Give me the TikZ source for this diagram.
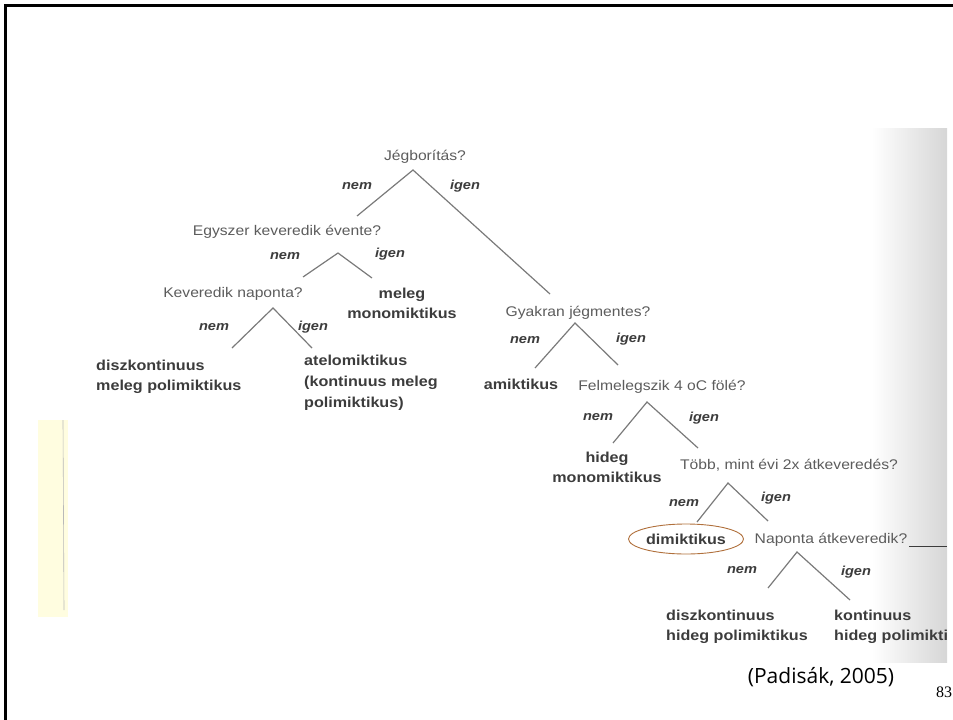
\documentclass[tikz,border=0pt]{standalone}
\usepackage{fontspec}
\usetikzlibrary{shapes.geometric}
\newfontfamily\scanfont[FakeStretch=1.12]{Liberation Sans}
\newfontfamily\citefont{Open Sans}
\newfontfamily\pagefont{Liberation Serif}
\definecolor{qgray}{HTML}{5C5C5C}
\definecolor{agray}{HTML}{3C3C3C}
\definecolor{linegray}{HTML}{7A7A7A}
\definecolor{ringbrown}{HTML}{B0703C}
\definecolor{paleyellow}{HTML}{FFFDE0}
\begin{document}
\begin{tikzpicture}[x=1pt,y=-1pt,
  question/.style={text=qgray,inner sep=0pt,font=\scanfont\fontsize{14}{16}\selectfont},
  answer/.style={text=agray,inner sep=0pt,font=\scanfont\bfseries\fontsize{14.4}{20}\selectfont},
  choice/.style={text=agray,inner sep=0pt,font=\scanfont\bfseries\itshape\fontsize{13}{14}\selectfont},
  branch/.style={draw=linegray,line width=1.2pt}]
\useasboundingbox (0,0) rectangle (953,720);
\shade[left color=white,right color=gray!32] (872,128) rectangle (947,662);
\fill[paleyellow] (38,420) rectangle (68,617);
\draw[gray!55,line width=0.6pt] (63,420) -- (64,610);
\draw[line width=3pt] (5,720) -- (5,5) -- (953,5);
\node[question] (ice) at (425,157) {Jégborítás?};
\node[question] (once) at (287,232) {Egyszer keveredik évente?};
\node[question] (daily) at (233,294) {Keveredik naponta?};
\node[question] (icefree) at (578,313) {Gyakran jégmentes?};
\node[question] (warm) at (662,387) {Felmelegszik 4 oC fölé?};
\node[question] (twice) at (789,465) {Több, mint évi 2x átkeveredés?};
\node[question] (mix) at (831,540) {Naponta átkeveredik?};
\node[answer,align=center] (warmmono) at (402,303) {meleg\\monomiktikus};
\node[answer,align=left,anchor=west] (warmpoly) at (96,377) {diszkontinuus\\meleg polimiktikus};
\node[answer,align=left,anchor=west,font=\scanfont\bfseries\fontsize{14.4}{21}\selectfont] (atelo) at (304,383) {atelomiktikus\\(kontinuus meleg\\polimiktikus)};
\node[answer] (amikt) at (521,384) {amiktikus};
\node[answer,align=center] (coldmono) at (607,467) {hideg\\monomiktikus};
\node[answer,draw=ringbrown,line width=0.9pt,ellipse,minimum width=115pt,minimum height=30pt] (dimikt) at (686,539) {dimiktikus};
\node[answer,align=left,anchor=west] (coldpoly) at (666,627) {diszkontinuus\\hideg polimiktikus};
\begin{scope}
\clip (0,0) rectangle (947,662);
\node[answer,align=left,anchor=west] (contpoly) at (834,627) {kontinuus\\hideg polimiktikus};
\end{scope}
\coordinate (iceA) at (413,170);
\coordinate (iceL) at (357,216);
\coordinate (iceR) at (550,294);
\coordinate (onceA) at (338,253);
\coordinate (onceL) at (303,277);
\coordinate (onceR) at (372,278);
\coordinate (dailyA) at (273,308);
\coordinate (dailyL) at (232,348);
\coordinate (dailyR) at (312,348);
\coordinate (icefreeA) at (575,323);
\coordinate (icefreeL) at (535,368);
\coordinate (icefreeR) at (618,365);
\coordinate (warmA) at (647,402);
\coordinate (warmL) at (613,443);
\coordinate (warmR) at (698,448);
\coordinate (twiceA) at (728,483);
\coordinate (twiceL) at (697,522);
\coordinate (twiceR) at (768,521);
\coordinate (mixA) at (797,552);
\coordinate (mixL) at (768,588);
\coordinate (mixR) at (850,600);
\coordinate (mixT) at (947,548);
\draw[branch] (iceL) -- (iceA) -- (iceR);
\draw[branch] (onceL) -- (onceA) -- (onceR);
\draw[branch] (dailyL) -- (dailyA) -- (dailyR);
\draw[branch] (icefreeL) -- (icefreeA) -- (icefreeR);
\draw[branch] (warmL) -- (warmA) -- (warmR);
\draw[branch] (twiceL) -- (twiceA) -- (twiceR);
\draw[branch] (mixL) -- (mixA) -- (mixR);
\draw[agray,line width=1.2pt] (mix.south east) ++(2,0) coordinate (mixU) -- (mixT |- mixU);
\node[choice] (iceN) at (357,186) {nem};
\node[choice] (iceI) at (465,186) {igen};
\node[choice] (onceN) at (285,256) {nem};
\node[choice] (onceI) at (390,254) {igen};
\node[choice] (dailyN) at (214,327) {nem};
\node[choice] (dailyI) at (313,327) {igen};
\node[choice] (icefreeN) at (525,340) {nem};
\node[choice] (icefreeI) at (631,339) {igen};
\node[choice] (warmN) at (598,417) {nem};
\node[choice] (warmI) at (704,418) {igen};
\node[choice] (twiceN) at (684,503) {nem};
\node[choice] (twiceI) at (776,498) {igen};
\node[choice] (mixN) at (742,570) {nem};
\node[choice] (mixI) at (856,572) {igen};
\node[font=\citefont\fontsize{21}{24}\selectfont,inner sep=0pt] (cite) at (821,677) {(Padisák, 2005)};
\node[font=\pagefont\fontsize{16}{18}\selectfont,anchor=west,inner sep=0pt] (pagenum) at (936,692) {83};
\end{tikzpicture}
\end{document}
